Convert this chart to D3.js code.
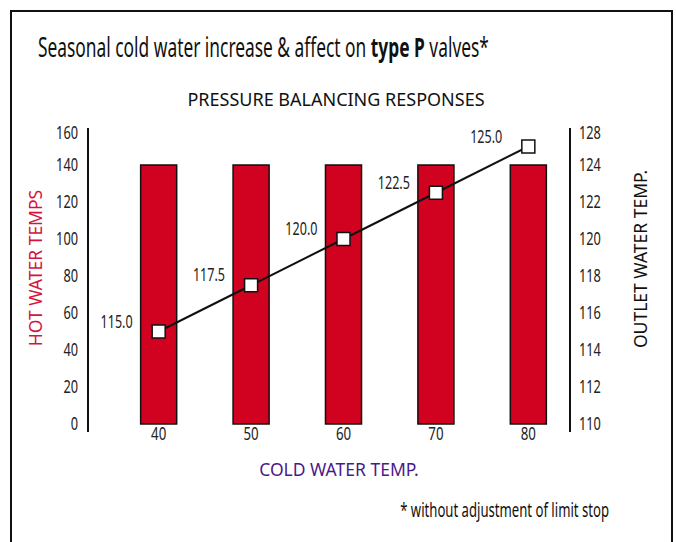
<!DOCTYPE html>
<head>
<meta charset="utf-8">
<style>
  body { margin: 0; background: #fff; }
  text { font-family: "Noto Sans", "DejaVu Sans", sans-serif; }
  .tick text { font-size: 17.5px; fill: #222; }
</style>
</head>
<body>
<script src="https://d3js.org/d3.v7.min.js"></script>
<script>
// data
var coldTemps = ["40", "50", "60", "70", "80"];
var hotWater = [140, 140, 140, 140, 140];
var outletTemp = [115.0, 117.5, 120.0, 122.5, 125.0];
var leftTicks = [0, 20, 40, 60, 80, 100, 120, 140, 160];
var rightTicks = [110, 112, 114, 116, 118, 120, 122, 124, 126];
var rightTickLabels = ["110", "112", "114", "116", "118", "120", "122", "124", "128"];

var W = 676, H = 542;
var barRed = "#d0021f";

var svg = d3.select("body").append("svg")
    .attr("width", W)
    .attr("height", H);

// no narrow font installed, so squeeze text horizontally instead
function squeeze(sel, f) {
  sel.each(function() {
    var t = d3.select(this);
    var tx = +t.attr("x") || 0, ty = +t.attr("y") || 0;
    t.attr("x", 0).attr("y", 0)
     .attr("transform", "translate(" + tx + "," + ty + ") scale(" + f + ",1)");
  });
}
function fitWidth(sel, w) {
  squeeze(sel, w / sel.node().getComputedTextLength());
}

// frame
svg.append("rect")
    .attr("x", 11).attr("y", 11)
    .attr("width", 661).attr("height", 560)
    .attr("fill", "none")
    .attr("stroke", "#111")
    .attr("stroke-width", 2);

// scales
var x = d3.scaleBand()
    .domain(coldTemps)
    .range([112, 575])
    .paddingInner(0.61)
    .paddingOuter(0.31);

var yLeft = d3.scaleLinear().domain([0, 160]).range([424, 128]);
var yRight = d3.scaleLinear().domain([110, 126]).range([424, 128]);

// titles
var title = svg.append("text")
    .attr("x", 38).attr("y", 57)
    .attr("font-size", 27)
    .attr("fill", "#111");
title.append("tspan").text("Seasonal cold water increase & affect on ");
title.append("tspan").attr("font-weight", "bold").text("type P");
title.append("tspan").text(" valves*");
fitWidth(title, 451);

svg.append("text")
    .attr("x", 336).attr("y", 106)
    .attr("text-anchor", "middle")
    .attr("font-size", 18)
    .attr("fill", "#111")
    .text("PRESSURE BALANCING RESPONSES");

// bars
svg.selectAll(".bar")
    .data(hotWater)
  .enter().append("rect")
    .attr("class", "bar")
    .attr("x", function(d, i) { return x(coldTemps[i]); })
    .attr("y", function(d) { return yLeft(d); })
    .attr("width", x.bandwidth())
    .attr("height", function(d) { return yLeft(0) - yLeft(d); })
    .attr("fill", barRed)
    .attr("stroke", "#111")
    .attr("stroke-width", 1.5);

// left axis
var gl = svg.append("g")
    .attr("transform", "translate(88,0)")
    .call(d3.axisLeft(yLeft).tickValues(leftTicks).tickSize(0).tickPadding(10));
gl.select(".domain").attr("stroke", "#111").attr("stroke-width", 2)
    .attr("d", "M0," + (yLeft(160)) + "V" + (yLeft(0) + 8));

// right axis
var gr = svg.append("g")
    .attr("transform", "translate(570,0)")
    .call(d3.axisRight(yRight).tickValues(rightTicks).tickSize(0).tickPadding(9)
        .tickFormat(function(d, i) { return rightTickLabels[i]; }));
gr.select(".domain").attr("stroke", "#111").attr("stroke-width", 2)
    .attr("d", "M0," + (yRight(126)) + "V" + (yRight(110) + 8));

// top labels sit a little lower than their tick
gl.selectAll(".tick text").filter(function(d) { return d === 160; }).attr("dy", "0.62em");
gr.selectAll(".tick text").filter(function(d) { return d === 126; }).attr("dy", "0.62em");
squeeze(gl.selectAll(".tick text"), 0.73);
squeeze(gr.selectAll(".tick text"), 0.73);

// x labels (no axis line)
var gx = svg.append("g")
    .attr("transform", "translate(0,426)")
    .call(d3.axisBottom(x).tickSize(0).tickPadding(2));
gx.select(".domain").remove();
gx.selectAll(".tick text").attr("font-size", 16.5);
squeeze(gx.selectAll(".tick text"), 0.76);

// axis titles
svg.append("text")
    .attr("transform", "translate(42,268) rotate(-90)")
    .attr("text-anchor", "middle")
    .attr("font-size", 17.5)
    .attr("fill", "#d4143c")
    .text("HOT WATER TEMPS");

svg.append("text")
    .attr("transform", "translate(647,259) rotate(-90)")
    .attr("text-anchor", "middle")
    .attr("font-size", 17.5)
    .attr("fill", "#111")
    .text("OUTLET WATER TEMP.");

svg.append("text")
    .attr("x", 339).attr("y", 476)
    .attr("text-anchor", "middle")
    .attr("font-size", 17.5)
    .attr("fill", "#4b1a8a")
    .text("COLD WATER TEMP.");

// outlet temperature line
var cx = function(i) { return x(coldTemps[i]) + x.bandwidth() / 2; };
var line = d3.line()
    .x(function(d, i) { return cx(i); })
    .y(function(d) { return yRight(d); });

svg.append("path")
    .datum(outletTemp)
    .attr("d", line)
    .attr("fill", "none")
    .attr("stroke", "#111")
    .attr("stroke-width", 2);

var ms = 13;
svg.selectAll(".marker")
    .data(outletTemp)
  .enter().append("rect")
    .attr("class", "marker")
    .attr("x", function(d, i) { return cx(i) - ms / 2; })
    .attr("y", function(d) { return yRight(d) - ms / 2; })
    .attr("width", ms).attr("height", ms)
    .attr("fill", "#fff")
    .attr("stroke", "#111")
    .attr("stroke-width", 1.5);

var vl = svg.selectAll(".vlabel")
    .data(outletTemp)
  .enter().append("text")
    .attr("class", "vlabel")
    .attr("x", function(d, i) { return cx(i) - 26; })
    .attr("y", function(d) { return yRight(d) - 10; })
    .attr("dy", "0.35em")
    .attr("text-anchor", "end")
    .attr("font-size", 17.5)
    .attr("fill", "#222")
    .text(function(d) { return d.toFixed(1); });
squeeze(vl, 0.72);

// footnote
var foot = svg.append("text")
    .attr("x", 609).attr("y", 517)
    .attr("text-anchor", "end")
    .attr("font-size", 19.5)
    .attr("fill", "#111")
    .text("* without adjustment of limit stop");
fitWidth(foot, 209);
</script>
</body>
